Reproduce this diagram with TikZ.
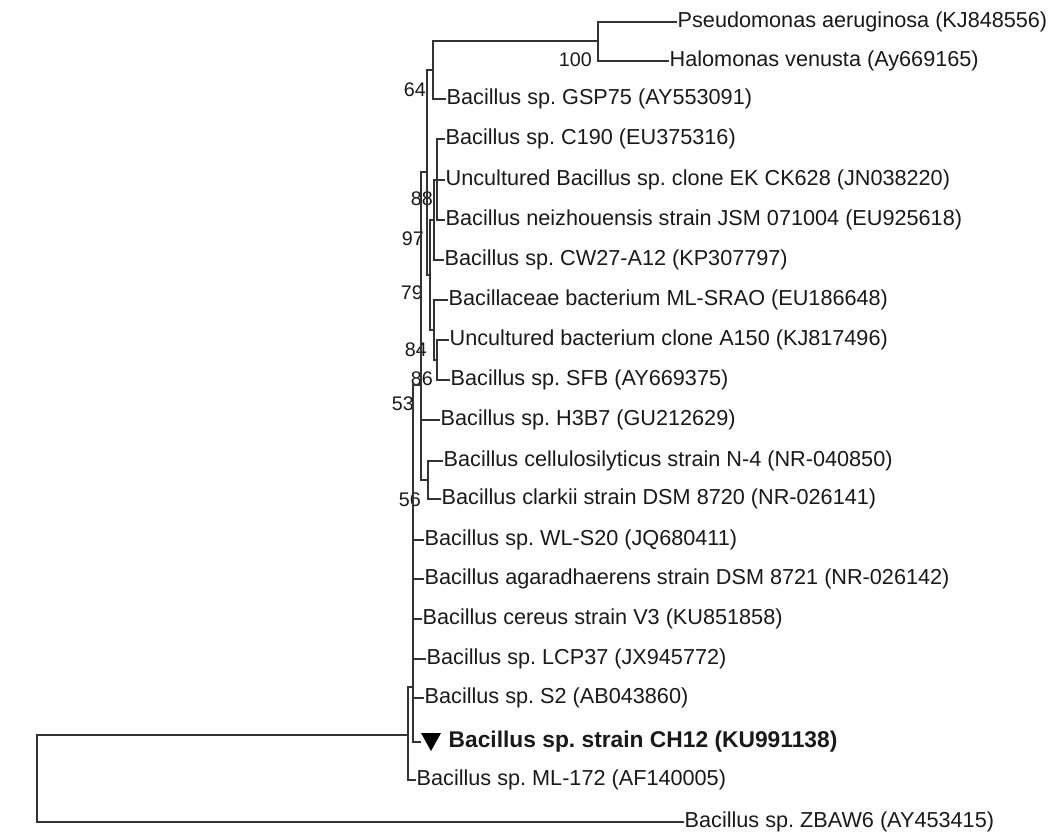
\documentclass[tikz,border=0pt]{standalone}
\usepackage{fontspec}
\setmainfont{Liberation Sans}
\frenchspacing
\begin{document}
\begin{tikzpicture}[x=0.025cm,y=-0.025cm,
  br/.style={line width=1.3pt,draw=black!80,line cap=rect},
  leaf/.style={anchor=west,inner sep=1pt,font=\fontsize{15.4}{17}\selectfont,text=black!90},
  boot/.style={anchor=east,inner sep=0pt,font=\fontsize{14}{16}\selectfont,text=black!90}]
  \useasboundingbox (0,0) rectangle (1051,833);
  \coordinate (root) at (37,778);
  \coordinate (n0) at (408,735);
  \coordinate (n1) at (413,687);
  \coordinate (n53) at (421,385);
  \coordinate (v) at (427,172);
  \coordinate (n64) at (433,70);
  \coordinate (n100) at (598,41);
  \coordinate (n79) at (430,275);
  \coordinate (n97) at (434,220);
  \coordinate (n88) at (437,180);
  \coordinate (n84) at (434,330);
  \coordinate (n86) at (437,360);
  \coordinate (n56) at (428,480);
  \coordinate (tri) at (420,742);
  \node[leaf] (pseu) at (676,22) {Pseudomonas aeruginosa (KJ848556)};
  \node[leaf] (halo) at (668,61) {Halomonas venusta (Ay669165)};
  \node[leaf] (gsp) at (445,99) {Bacillus sp. GSP75 (AY553091)};
  \node[leaf] (c190) at (444,139) {Bacillus sp. C190 (EU375316)};
  \node[leaf] (unc) at (444,180) {Uncultured Bacillus sp. clone EK CK628 (JN038220)};
  \node[leaf] (neiz) at (444,220) {Bacillus neizhouensis strain JSM 071004 (EU925618)};
  \node[leaf] (cw) at (443,260) {Bacillus sp. CW27-A12 (KP307797)};
  \node[leaf] (bac) at (447,300) {Bacillaceae bacterium ML-SRAO (EU186648)};
  \node[leaf] (a150) at (448,340) {Uncultured bacterium clone A150 (KJ817496)};
  \node[leaf] (sfb) at (449,380) {Bacillus sp. SFB (AY669375)};
  \node[leaf] (h3) at (439,420) {Bacillus sp. H3B7 (GU212629)};
  \node[leaf] (cel) at (442,461) {Bacillus cellulosilyticus strain N-4 (NR-040850)};
  \node[leaf] (cla) at (440,499) {Bacillus clarkii strain DSM 8720 (NR-026141)};
  \node[leaf] (wl) at (423,540) {Bacillus sp. WL-S20 (JQ680411)};
  \node[leaf] (ag) at (423,579) {Bacillus agaradhaerens strain DSM 8721 (NR-026142)};
  \node[leaf] (ce) at (421,619) {Bacillus cereus strain V3 (KU851858)};
  \node[leaf] (lc) at (425,659) {Bacillus sp. LCP37 (JX945772)};
  \node[leaf] (s2) at (423,698) {Bacillus sp. S2 (AB043860)};
  \node[leaf,font=\fontsize{16.2}{18}\selectfont\bfseries] (ch) at (447,742) {Bacillus sp. strain CH12 (KU991138)};
  \node[leaf] (ml) at (415,780) {Bacillus sp. ML-172 (AF140005)};
  \node[leaf] (zb) at (683,822) {Bacillus sp. ZBAW6 (AY453415)};
  \node[boot] (b100) at (592,60) {100};
  \node[boot] (b64) at (426,90) {64};
  \node[boot] (b88) at (433,199) {88};
  \node[boot] (b97) at (424,239) {97};
  \node[boot] (b79) at (423,293) {79};
  \node[boot] (b84) at (427,350) {84};
  \node[boot] (b86) at (433,379) {86};
  \node[boot] (b53) at (414,404) {53};
  \node[boot] (b56) at (421,500) {56};
  \draw[br] (root) |- (n0);
  \draw[br] (root) |- (zb.west);
  \draw[br] (n0) |- (n1);
  \draw[br] (n0) |- (ml.west);
  \draw[br] (n1) |- (n53);
  \draw[br] (n1) |- (wl.west);
  \draw[br] (n1) |- (ag.west);
  \draw[br] (n1) |- (ce.west);
  \draw[br] (n1) |- (lc.west);
  \draw[br] (n1) |- (s2.west);
  \draw[br] (n1) |- (tri);
  \draw[br] (n53) |- (v);
  \draw[br] (n53) |- (h3.west);
  \draw[br] (n53) |- (n56);
  \draw[br] (v) |- (n64);
  \draw[br] (v) |- (n79);
  \draw[br] (n64) |- (n100);
  \draw[br] (n64) |- (gsp.west);
  \draw[br] (n100) |- (pseu.west);
  \draw[br] (n100) |- (halo.west);
  \draw[br] (n79) |- (n97);
  \draw[br] (n79) |- (n84);
  \draw[br] (n97) |- (n88);
  \draw[br] (n97) |- (cw.west);
  \draw[br] (n88) |- (c190.west);
  \draw[br] (n88) |- (unc.west);
  \draw[br] (n88) |- (neiz.west);
  \draw[br] (n84) |- (bac.west);
  \draw[br] (n84) |- (n86);
  \draw[br] (n86) |- (a150.west);
  \draw[br] (n86) |- (sfb.west);
  \draw[br] (n56) |- (cel.west);
  \draw[br] (n56) |- (cla.west);
  \fill[black] (421,733) -- (441,733) -- (431,751) -- cycle;
\end{tikzpicture}
\end{document}
